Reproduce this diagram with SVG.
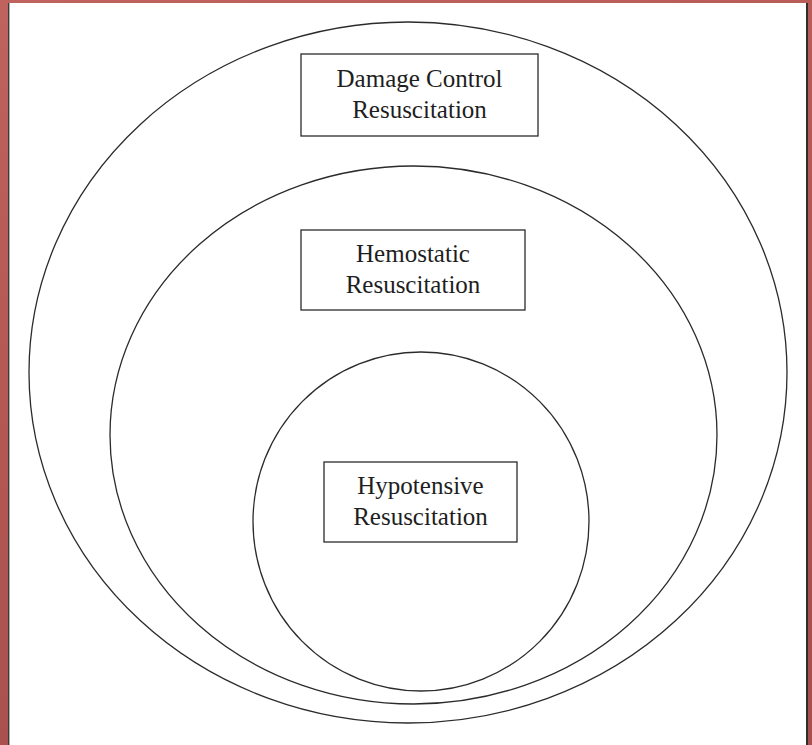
<svg xmlns="http://www.w3.org/2000/svg" width="812" height="745" viewBox="0 0 812 745">
  <defs>
    <linearGradient id="bg" x1="0" y1="0" x2="0.3" y2="1">
      <stop offset="0" stop-color="#c0625d"/>
      <stop offset="0.5" stop-color="#b45853"/>
      <stop offset="1" stop-color="#a8504d"/>
    </linearGradient>
    <style>
      .ring { fill: none; stroke: #2b2b2b; stroke-width: 1.3; }
      .box { fill: #ffffff; stroke: #2b2b2b; stroke-width: 1.3; }
      .label { font-family: "Liberation Serif", "Times New Roman", serif; font-size: 25px; fill: #1e1e1e; text-anchor: middle; }
    </style>
  </defs>

  <!-- backdrop and white panel -->
  <rect x="0" y="0" width="812" height="745" fill="url(#bg)"/>
  <rect x="8" y="3" width="800" height="742" fill="#ffffff"/>
  <line x1="8.7" y1="3" x2="8.7" y2="745" stroke="#3a3a3a" stroke-width="1.4"/>
  <line x1="807" y1="3" x2="807" y2="745" stroke="#2e2e2e" stroke-width="2"/>

  <!-- nested scopes -->
  <g id="connectors"></g>

  <g id="damage-control">
    <ellipse class="ring" cx="408" cy="372.5" rx="379" ry="350.5"/>
    <rect class="box" x="301" y="54" width="237" height="82"/>
    <text class="label" x="419.5" y="87">Damage Control</text>
    <text class="label" x="419.5" y="118">Resuscitation</text>
  </g>

  <g id="hemostatic">
    <ellipse class="ring" cx="413.5" cy="435" rx="303.5" ry="269"/>
    <rect class="box" x="301" y="230" width="224" height="80"/>
    <text class="label" x="413" y="262">Hemostatic</text>
    <text class="label" x="413" y="293">Resuscitation</text>
  </g>

  <g id="hypotensive">
    <ellipse class="ring" cx="421" cy="521.5" rx="168" ry="169.5"/>
    <rect class="box" x="324" y="462" width="193" height="80"/>
    <text class="label" x="420.5" y="494">Hypotensive</text>
    <text class="label" x="420.5" y="525">Resuscitation</text>
  </g>
</svg>
